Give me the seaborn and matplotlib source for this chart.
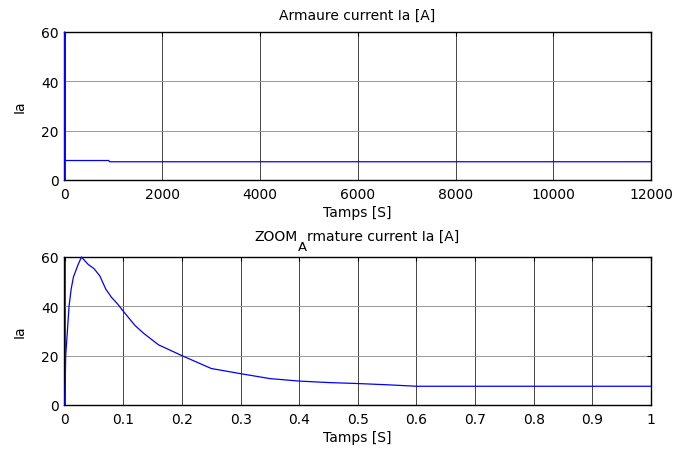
import numpy as np
import pandas as pd
import seaborn as sn
import matplotlib
matplotlib.use("Agg")
import matplotlib.pyplot as plt

# long run (top panel)
t_full = [0, 0.0286, 1.0, 900, 920, 12000]
ia_full = [0, 60, 7.9, 7.9, 7.4, 7.4]

# zoom on the start (bottom panel)
t_zoom = [0, 0.001, 0.0017, 0.004, 0.0074, 0.011, 0.015, 0.023, 0.0286, 0.04, 0.05,
          0.06, 0.07, 0.08, 0.09, 0.1, 0.12, 0.135, 0.16, 0.2, 0.25, 0.3, 0.35,
          0.4, 0.45, 0.5, 0.55, 0.6, 1.0]
ia_zoom = [0, 10, 20, 28, 40, 47, 52, 57, 60, 57, 55.3, 52.3, 47, 43.6, 41, 38,
           32.2, 29, 24.4, 20, 14.8, 12.7, 10.7, 9.7, 9.1, 8.7, 8.2, 7.6, 7.6]

sn.set_style("white")
plt.rcParams['font.family'] = ['DejaVu Sans']
plt.rcParams['text.color'] = 'black'
plt.rcParams['axes.labelcolor'] = 'black'
fs = 10
W, H = 691, 452

fig = plt.figure(figsize=(W / 100, H / 100), dpi=100)
ax1 = fig.add_axes([64 / W, 1 - 181 / H, 587 / W, 148 / H])
ax2 = fig.add_axes([64 / W, 1 - 406 / H, 587 / W, 148 / H])

sn.lineplot(x=t_full, y=ia_full, ax=ax1, color='#0000ff', lw=0.9, sort=False,
            estimator=None, zorder=3)
sn.lineplot(x=t_zoom, y=ia_zoom, ax=ax2, color='#0000ff', lw=0.9, sort=False,
            estimator=None, zorder=3)
ax1.lines[0].set_clip_on(False)
ax2.lines[0].set_clip_on(False)

ax1.set_xlim(-15, 12000)
ax1.set_xticks(np.arange(0, 12001, 2000))
ax2.set_xlim(-0.0012, 1)
ax2.set_xticks(np.round(np.arange(0, 1.01, 0.1), 1))
ax2.set_xticklabels(['0', '0.1', '0.2', '0.3', '0.4', '0.5', '0.6', '0.7', '0.8', '0.9', '1'])

for ax in [ax1, ax2]:
    ax.set_ylim(0, 60)
    ax.set_yticks([0, 20, 40, 60])
    ax.set_xlabel('Tamps [S]', fontsize=fs, labelpad=3)
    ax.set_ylabel('Ia', fontsize=fs, labelpad=10)
    ax.xaxis.grid(True, color='#444444', lw=0.7)
    ax.yaxis.grid(True, color='#999999', lw=0.7)
    ax.tick_params(direction='in', top=True, right=True, length=3, width=0.8,
                   labelsize=fs, colors='black')
    ax.tick_params(axis='x', pad=5)
    ax.tick_params(axis='y', pad=4)
    for s in ax.spines.values():
        s.set_color('black')
        s.set_linewidth(1.0)

# titles (baseline placed like the original)
cx = 357 / W
fig.text(cx, 1 - 20 / H, 'Armaure current Ia [A]', fontsize=fs, ha='center', va='baseline')

fig.canvas.draw()
r = fig.canvas.get_renderer()
parts = [('ZOOM', fs, 241), ('A', fs * 0.95, 251), ('rmature current Ia [A]', fs, 241)]
texts = [fig.text(0, 1 - yb / H, s, fontsize=f, va='baseline') for s, f, yb in parts]
widths = [t.get_window_extent(r).width for t in texts]
x0 = 357 - sum(widths) / 2
for t, w in zip(texts, widths):
    t.set_x(x0 / W)
    x0 += w

fig.savefig('out.png', dpi=100)
